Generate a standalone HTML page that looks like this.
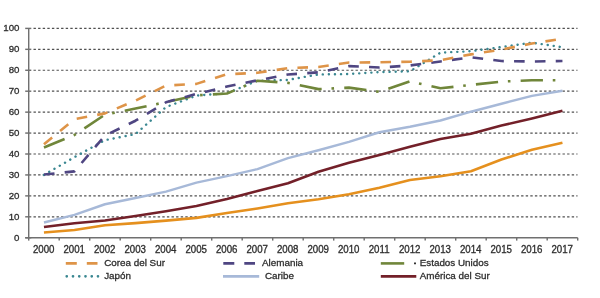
<!DOCTYPE html>
<html><head><meta charset="utf-8">
<style>
html,body{margin:0;padding:0;background:#fff;}
body{width:600px;height:298px;overflow:hidden;}
svg{display:block;filter:blur(0.4px);}
text{font-family:"Liberation Sans",sans-serif;fill:#2e2e2e;stroke:#2e2e2e;stroke-width:0.3px;}
</style></head><body>
<svg width="600" height="298" viewBox="0 0 600 298">

<line x1="33.5" y1="216.81" x2="577.5" y2="216.81" stroke="#505050" stroke-width="1.2" stroke-dasharray="2.4 2.2"/>
<line x1="33.5" y1="195.88" x2="577.5" y2="195.88" stroke="#505050" stroke-width="1.2" stroke-dasharray="2.4 2.2"/>
<line x1="33.5" y1="174.94" x2="577.5" y2="174.94" stroke="#505050" stroke-width="1.2" stroke-dasharray="2.4 2.2"/>
<line x1="33.5" y1="154.01" x2="577.5" y2="154.01" stroke="#505050" stroke-width="1.2" stroke-dasharray="2.4 2.2"/>
<line x1="33.5" y1="133.07" x2="577.5" y2="133.07" stroke="#505050" stroke-width="1.2" stroke-dasharray="2.4 2.2"/>
<line x1="33.5" y1="112.14" x2="577.5" y2="112.14" stroke="#505050" stroke-width="1.2" stroke-dasharray="2.4 2.2"/>
<line x1="33.5" y1="91.20" x2="577.5" y2="91.20" stroke="#505050" stroke-width="1.2" stroke-dasharray="2.4 2.2"/>
<line x1="33.5" y1="70.27" x2="577.5" y2="70.27" stroke="#505050" stroke-width="1.2" stroke-dasharray="2.4 2.2"/>
<line x1="33.5" y1="49.33" x2="577.5" y2="49.33" stroke="#505050" stroke-width="1.2" stroke-dasharray="2.4 2.2"/>
<line x1="33.5" y1="28.40" x2="577.5" y2="28.40" stroke="#505050" stroke-width="1.2" stroke-dasharray="2.4 2.2"/>
<line x1="28.7" y1="28.40" x2="28.7" y2="240.6" stroke="#707070" stroke-width="1.45"/>
<line x1="25.2" y1="237.75" x2="577.70" y2="237.75" stroke="#707070" stroke-width="1.45"/>
<line x1="25.2" y1="237.75" x2="31.3" y2="237.75" stroke="#707070" stroke-width="1.45"/>
<line x1="25.2" y1="216.81" x2="31.3" y2="216.81" stroke="#707070" stroke-width="1.45"/>
<line x1="25.2" y1="195.88" x2="31.3" y2="195.88" stroke="#707070" stroke-width="1.45"/>
<line x1="25.2" y1="174.94" x2="31.3" y2="174.94" stroke="#707070" stroke-width="1.45"/>
<line x1="25.2" y1="154.01" x2="31.3" y2="154.01" stroke="#707070" stroke-width="1.45"/>
<line x1="25.2" y1="133.07" x2="31.3" y2="133.07" stroke="#707070" stroke-width="1.45"/>
<line x1="25.2" y1="112.14" x2="31.3" y2="112.14" stroke="#707070" stroke-width="1.45"/>
<line x1="25.2" y1="91.20" x2="31.3" y2="91.20" stroke="#707070" stroke-width="1.45"/>
<line x1="25.2" y1="70.27" x2="31.3" y2="70.27" stroke="#707070" stroke-width="1.45"/>
<line x1="25.2" y1="49.33" x2="31.3" y2="49.33" stroke="#707070" stroke-width="1.45"/>
<line x1="25.2" y1="28.40" x2="31.3" y2="28.40" stroke="#707070" stroke-width="1.45"/>
<line x1="59.20" y1="237.75" x2="59.20" y2="240.6" stroke="#707070" stroke-width="1.45"/>
<line x1="89.70" y1="237.75" x2="89.70" y2="240.6" stroke="#707070" stroke-width="1.45"/>
<line x1="120.20" y1="237.75" x2="120.20" y2="240.6" stroke="#707070" stroke-width="1.45"/>
<line x1="150.70" y1="237.75" x2="150.70" y2="240.6" stroke="#707070" stroke-width="1.45"/>
<line x1="181.20" y1="237.75" x2="181.20" y2="240.6" stroke="#707070" stroke-width="1.45"/>
<line x1="211.70" y1="237.75" x2="211.70" y2="240.6" stroke="#707070" stroke-width="1.45"/>
<line x1="242.20" y1="237.75" x2="242.20" y2="240.6" stroke="#707070" stroke-width="1.45"/>
<line x1="272.70" y1="237.75" x2="272.70" y2="240.6" stroke="#707070" stroke-width="1.45"/>
<line x1="303.20" y1="237.75" x2="303.20" y2="240.6" stroke="#707070" stroke-width="1.45"/>
<line x1="333.70" y1="237.75" x2="333.70" y2="240.6" stroke="#707070" stroke-width="1.45"/>
<line x1="364.20" y1="237.75" x2="364.20" y2="240.6" stroke="#707070" stroke-width="1.45"/>
<line x1="394.70" y1="237.75" x2="394.70" y2="240.6" stroke="#707070" stroke-width="1.45"/>
<line x1="425.20" y1="237.75" x2="425.20" y2="240.6" stroke="#707070" stroke-width="1.45"/>
<line x1="455.70" y1="237.75" x2="455.70" y2="240.6" stroke="#707070" stroke-width="1.45"/>
<line x1="486.20" y1="237.75" x2="486.20" y2="240.6" stroke="#707070" stroke-width="1.45"/>
<line x1="516.70" y1="237.75" x2="516.70" y2="240.6" stroke="#707070" stroke-width="1.45"/>
<line x1="547.20" y1="237.75" x2="547.20" y2="240.6" stroke="#707070" stroke-width="1.45"/>
<line x1="577.70" y1="237.75" x2="577.70" y2="240.6" stroke="#707070" stroke-width="1.45"/>
<text transform="translate(19.5,240.65) scale(1,1.03)" font-size="9.7" text-anchor="end">0</text>
<text transform="translate(19.5,219.72) scale(1,1.03)" font-size="9.7" text-anchor="end">10</text>
<text transform="translate(19.5,198.78) scale(1,1.03)" font-size="9.7" text-anchor="end">20</text>
<text transform="translate(19.5,177.84) scale(1,1.03)" font-size="9.7" text-anchor="end">30</text>
<text transform="translate(19.5,156.91) scale(1,1.03)" font-size="9.7" text-anchor="end">40</text>
<text transform="translate(19.5,135.97) scale(1,1.03)" font-size="9.7" text-anchor="end">50</text>
<text transform="translate(19.5,115.04) scale(1,1.03)" font-size="9.7" text-anchor="end">60</text>
<text transform="translate(19.5,94.10) scale(1,1.03)" font-size="9.7" text-anchor="end">70</text>
<text transform="translate(19.5,73.17) scale(1,1.03)" font-size="9.7" text-anchor="end">80</text>
<text transform="translate(19.5,52.23) scale(1,1.03)" font-size="9.7" text-anchor="end">90</text>
<text transform="translate(19.5,31.30) scale(1,1.03)" font-size="9.7" text-anchor="end">100</text>
<text transform="translate(43.65,253.0) scale(1,1.09)" font-size="9.7" text-anchor="middle">2000</text>
<text transform="translate(74.15,253.0) scale(1,1.09)" font-size="9.7" text-anchor="middle">2001</text>
<text transform="translate(104.65,253.0) scale(1,1.09)" font-size="9.7" text-anchor="middle">2002</text>
<text transform="translate(135.15,253.0) scale(1,1.09)" font-size="9.7" text-anchor="middle">2003</text>
<text transform="translate(165.65,253.0) scale(1,1.09)" font-size="9.7" text-anchor="middle">2004</text>
<text transform="translate(196.15,253.0) scale(1,1.09)" font-size="9.7" text-anchor="middle">2005</text>
<text transform="translate(226.65,253.0) scale(1,1.09)" font-size="9.7" text-anchor="middle">2006</text>
<text transform="translate(257.15,253.0) scale(1,1.09)" font-size="9.7" text-anchor="middle">2007</text>
<text transform="translate(287.65,253.0) scale(1,1.09)" font-size="9.7" text-anchor="middle">2008</text>
<text transform="translate(318.15,253.0) scale(1,1.09)" font-size="9.7" text-anchor="middle">2009</text>
<text transform="translate(348.65,253.0) scale(1,1.09)" font-size="9.7" text-anchor="middle">2010</text>
<text transform="translate(379.15,253.0) scale(1,1.09)" font-size="9.7" text-anchor="middle">2011</text>
<text transform="translate(409.65,253.0) scale(1,1.09)" font-size="9.7" text-anchor="middle">2012</text>
<text transform="translate(440.15,253.0) scale(1,1.09)" font-size="9.7" text-anchor="middle">2013</text>
<text transform="translate(470.65,253.0) scale(1,1.09)" font-size="9.7" text-anchor="middle">2014</text>
<text transform="translate(501.15,253.0) scale(1,1.09)" font-size="9.7" text-anchor="middle">2015</text>
<text transform="translate(531.65,253.0) scale(1,1.09)" font-size="9.7" text-anchor="middle">2016</text>
<text transform="translate(562.15,253.0) scale(1,1.09)" font-size="9.7" text-anchor="middle">2017</text>
<polyline points="43.95,232.52 74.45,230.00 104.95,225.19 135.45,223.10 165.95,220.58 196.45,217.86 226.95,213.05 257.45,208.44 287.95,203.21 318.45,199.23 348.95,194.21 379.45,187.72 409.95,179.97 440.45,176.20 470.95,171.18 501.45,159.45 531.95,149.82 562.45,142.71" fill="none" stroke="#E5901E" stroke-width="2.6" stroke-linejoin="round"/>
<polyline points="43.95,227.07 74.45,223.30 104.95,220.58 135.45,215.98 165.95,211.16 196.45,205.93 226.95,199.02 257.45,191.06 287.95,183.32 318.45,171.80 348.95,162.80 379.45,155.06 409.95,146.68 440.45,138.94 470.95,133.70 501.45,125.54 531.95,118.42 562.45,110.67" fill="none" stroke="#732029" stroke-width="2.6" stroke-linejoin="round"/>
<polyline points="43.95,222.47 74.45,214.93 104.95,204.25 135.45,197.97 165.95,191.69 196.45,182.69 226.95,176.20 257.45,169.08 287.95,158.20 318.45,150.24 348.95,141.87 379.45,132.24 409.95,126.79 440.45,120.51 470.95,111.72 501.45,103.77 531.95,95.81 562.45,90.79" fill="none" stroke="#A7B9D8" stroke-width="2.4" stroke-linejoin="round"/>
<polyline points="43.95,174.94 74.45,157.15 104.95,140.19 135.45,134.12 165.95,107.12 196.45,95.60 226.95,93.30 257.45,80.74 287.95,79.90 318.45,74.46 348.95,74.04 379.45,72.15 409.95,71.32 440.45,52.68 470.95,51.22 501.45,47.03 531.95,42.64 562.45,47.24" fill="none" stroke="#3A8791" stroke-width="2.4" stroke-linejoin="round" stroke-linecap="round" stroke-dasharray="0.1 5.98"/>
<polyline points="43.95,147.52 74.45,134.96 104.95,114.65 135.45,108.58 165.95,102.09 196.45,95.39 226.95,93.51 257.45,80.74 287.95,82.83 318.45,89.11 348.95,87.65 379.45,91.83 409.95,81.37 440.45,88.27 470.95,84.92 501.45,81.57 531.95,80.32 562.45,80.32" fill="none" stroke="#70863A" stroke-width="2.6" stroke-linejoin="round" stroke-dasharray="22.3 9.8 2.6 10.2"/>
<polyline points="43.95,174.53 74.45,171.39 104.95,135.59 135.45,120.72 165.95,102.30 196.45,93.93 226.95,86.60 257.45,80.32 287.95,74.46 318.45,72.36 348.95,66.08 379.45,67.55 409.95,65.45 440.45,61.48 470.95,57.29 501.45,61.06 531.95,61.48 562.45,61.06" fill="none" stroke="#4F4682" stroke-width="2.6" stroke-linejoin="round" stroke-dasharray="10.6 10.24"/>
<polyline points="43.95,144.17 74.45,119.26 104.95,113.40 135.45,100.63 165.95,85.55 196.45,83.88 226.95,74.25 257.45,72.78 287.95,68.18 318.45,66.92 348.95,62.52 379.45,62.31 409.95,61.69 440.45,60.22 470.95,54.36 501.45,49.54 531.95,43.47 562.45,38.66" fill="none" stroke="#DE9448" stroke-width="2.6" stroke-linejoin="round" stroke-dasharray="10.6 10.24"/>
<line x1="65.8" y1="263.4" x2="97.5" y2="263.4" stroke="#DE9448" stroke-width="2.6" stroke-dasharray="11 10"/>
<line x1="66.7" y1="276.35" x2="98" y2="276.35" stroke="#3A8791" stroke-width="2.6" stroke-linecap="round" stroke-dasharray="0.1 6.15"/>
<line x1="223.3" y1="263.4" x2="255" y2="263.4" stroke="#4F4682" stroke-width="2.6" stroke-dasharray="11 10"/>
<line x1="223" y1="276.35" x2="259.2" y2="276.35" stroke="#A7B9D8" stroke-width="2.6"/>
<line x1="380.8" y1="263.4" x2="404.2" y2="263.4" stroke="#70863A" stroke-width="2.6"/>
<line x1="414" y1="263.4" x2="416" y2="263.4" stroke="#333" stroke-width="1.6"/>
<line x1="380.8" y1="276.35" x2="416.3" y2="276.35" stroke="#732029" stroke-width="2.6"/>
<text x="104.2" y="265.8" font-size="9.85">Corea del Sur</text>
<text x="104.2" y="279.0" font-size="9.85">Japón</text>
<text x="262" y="265.8" font-size="9.85">Alemania</text>
<text x="265" y="279.0" font-size="9.85">Caribe</text>
<text x="419.7" y="265.8" font-size="9.85">Estados Unidos</text>
<text x="419.7" y="279.0" font-size="9.85">América del Sur</text>
</svg></body></html>
